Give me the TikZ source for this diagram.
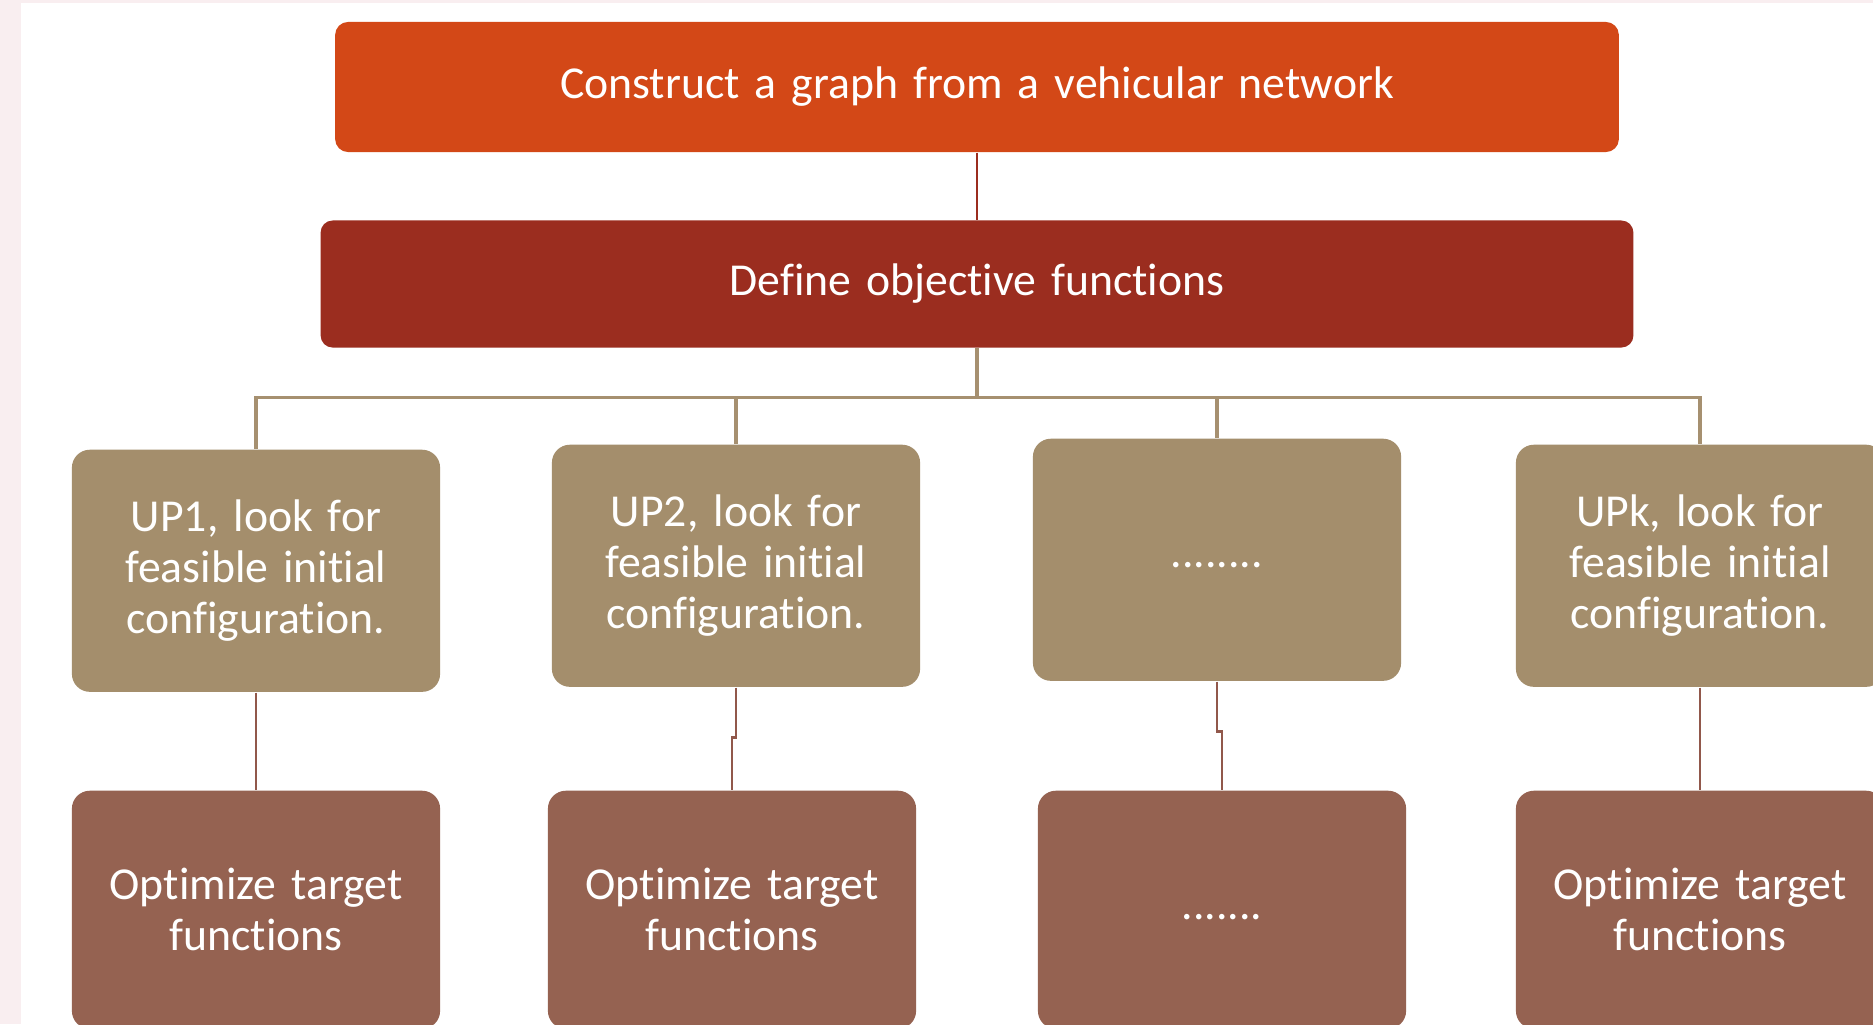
\documentclass[tikz,border=0pt]{standalone}
\usepackage{fontspec}
\setmainfont{Carlito}[WordSpace=1.45, Ligatures=NoCommon]
\definecolor{graphOrange}{RGB}{211, 72, 23}
\definecolor{defineRed}{RGB}{155, 45, 31}
\definecolor{upTan}{RGB}{164, 142, 108}
\definecolor{optBrown}{RGB}{149, 98, 81}
\definecolor{busTan}{RGB}{166, 144, 112}
\definecolor{linkBrown}{RGB}{145, 88, 75}
\definecolor{pageRose}{RGB}{249, 238, 240}
\usetikzlibrary{positioning, calc}

\begin{document}
\begin{tikzpicture}[
    x=0.01cm, y=-0.01cm,
    box/.style={rectangle, text=white, align=center, inner sep=0pt,
                font=\fontsize{13}{14.5}\selectfont},
    topbox/.style={box, fill=graphOrange, minimum width=12.83cm,
                   minimum height=1.30cm, rounded corners=0.13cm},
    definebox/.style={box, fill=defineRed, minimum width=13.12cm,
                      minimum height=1.27cm, rounded corners=0.12cm},
    upbox/.style={box, fill=upTan, minimum width=3.68cm,
                  minimum height=2.42cm, rounded corners=0.18cm},
    optbox/.style={box, fill=optBrown, minimum width=3.68cm,
                   minimum height=2.38cm, rounded corners=0.18cm},
    link/.style={draw=linkBrown, line width=0.7pt},
    bus/.style={draw=busTan, line width=0.9pt}
  ]
    % page
    \fill[pageRose] (0,0) rectangle (1873,1024);
    \fill[white] (21,3) rectangle (1873,1024);
    \useasboundingbox (0,0) rectangle (1873,1024);

    % Top: graph and objectives
    \node[topbox] (graph) at (977,87) {Construct a graph from a vehicular network};
    \node[definebox, below=0.67cm of graph] (define) {Define objective functions};

    % Middle row: user partitions
    \node[upbox, anchor=north] (up1) at (256,449)
      {UP1, look for\\feasible initial\\configuration.};
    \node[upbox, anchor=north] (up2) at (736,444)
      {UP2, look for\\feasible initial\\configuration.};
    \node[upbox, anchor=north] (up3) at (1217,438)
      {\raisebox{-2.3pt}[0pt][0pt]{........}};
    \node[upbox, anchor=north] (upk) at (1700,444)
      {UPk, look for\\feasible initial\\configuration.};

    % Bottom row: optimisation
    \node[optbox, anchor=north] (opt1) at (256,790) {Optimize target\\functions};
    \node[optbox, anchor=north] (opt2) at (732,790) {Optimize target\\functions};
    \node[optbox, anchor=north] (opt3) at (1222,790)
      {\raisebox{-2.8pt}[0pt][0pt]{.......}};
    \node[optbox, anchor=north] (optk) at (1700,790) {Optimize target\\functions};

    \coordinate (hub) at ($(define.south)+(0,49)$);

    \draw[link, draw=defineRed] (graph) -- (define);
    \draw[bus] (define.south) -- (hub) -| (up1.north);
    \draw[bus] (hub) -| (up2.north);
    \draw[bus] (hub) -| (up3.north);
    \draw[bus] (hub) -| (upk.north);
    \draw[link] (up1) -- (opt1);
    \draw[link] (up2.south) -- ++(0,50) -| (opt2.north);
    \draw[link] (up3.south) -- ++(0,50) -| (opt3.north);
    \draw[link] (upk) -- (optk);
  \end{tikzpicture}
\end{document}
